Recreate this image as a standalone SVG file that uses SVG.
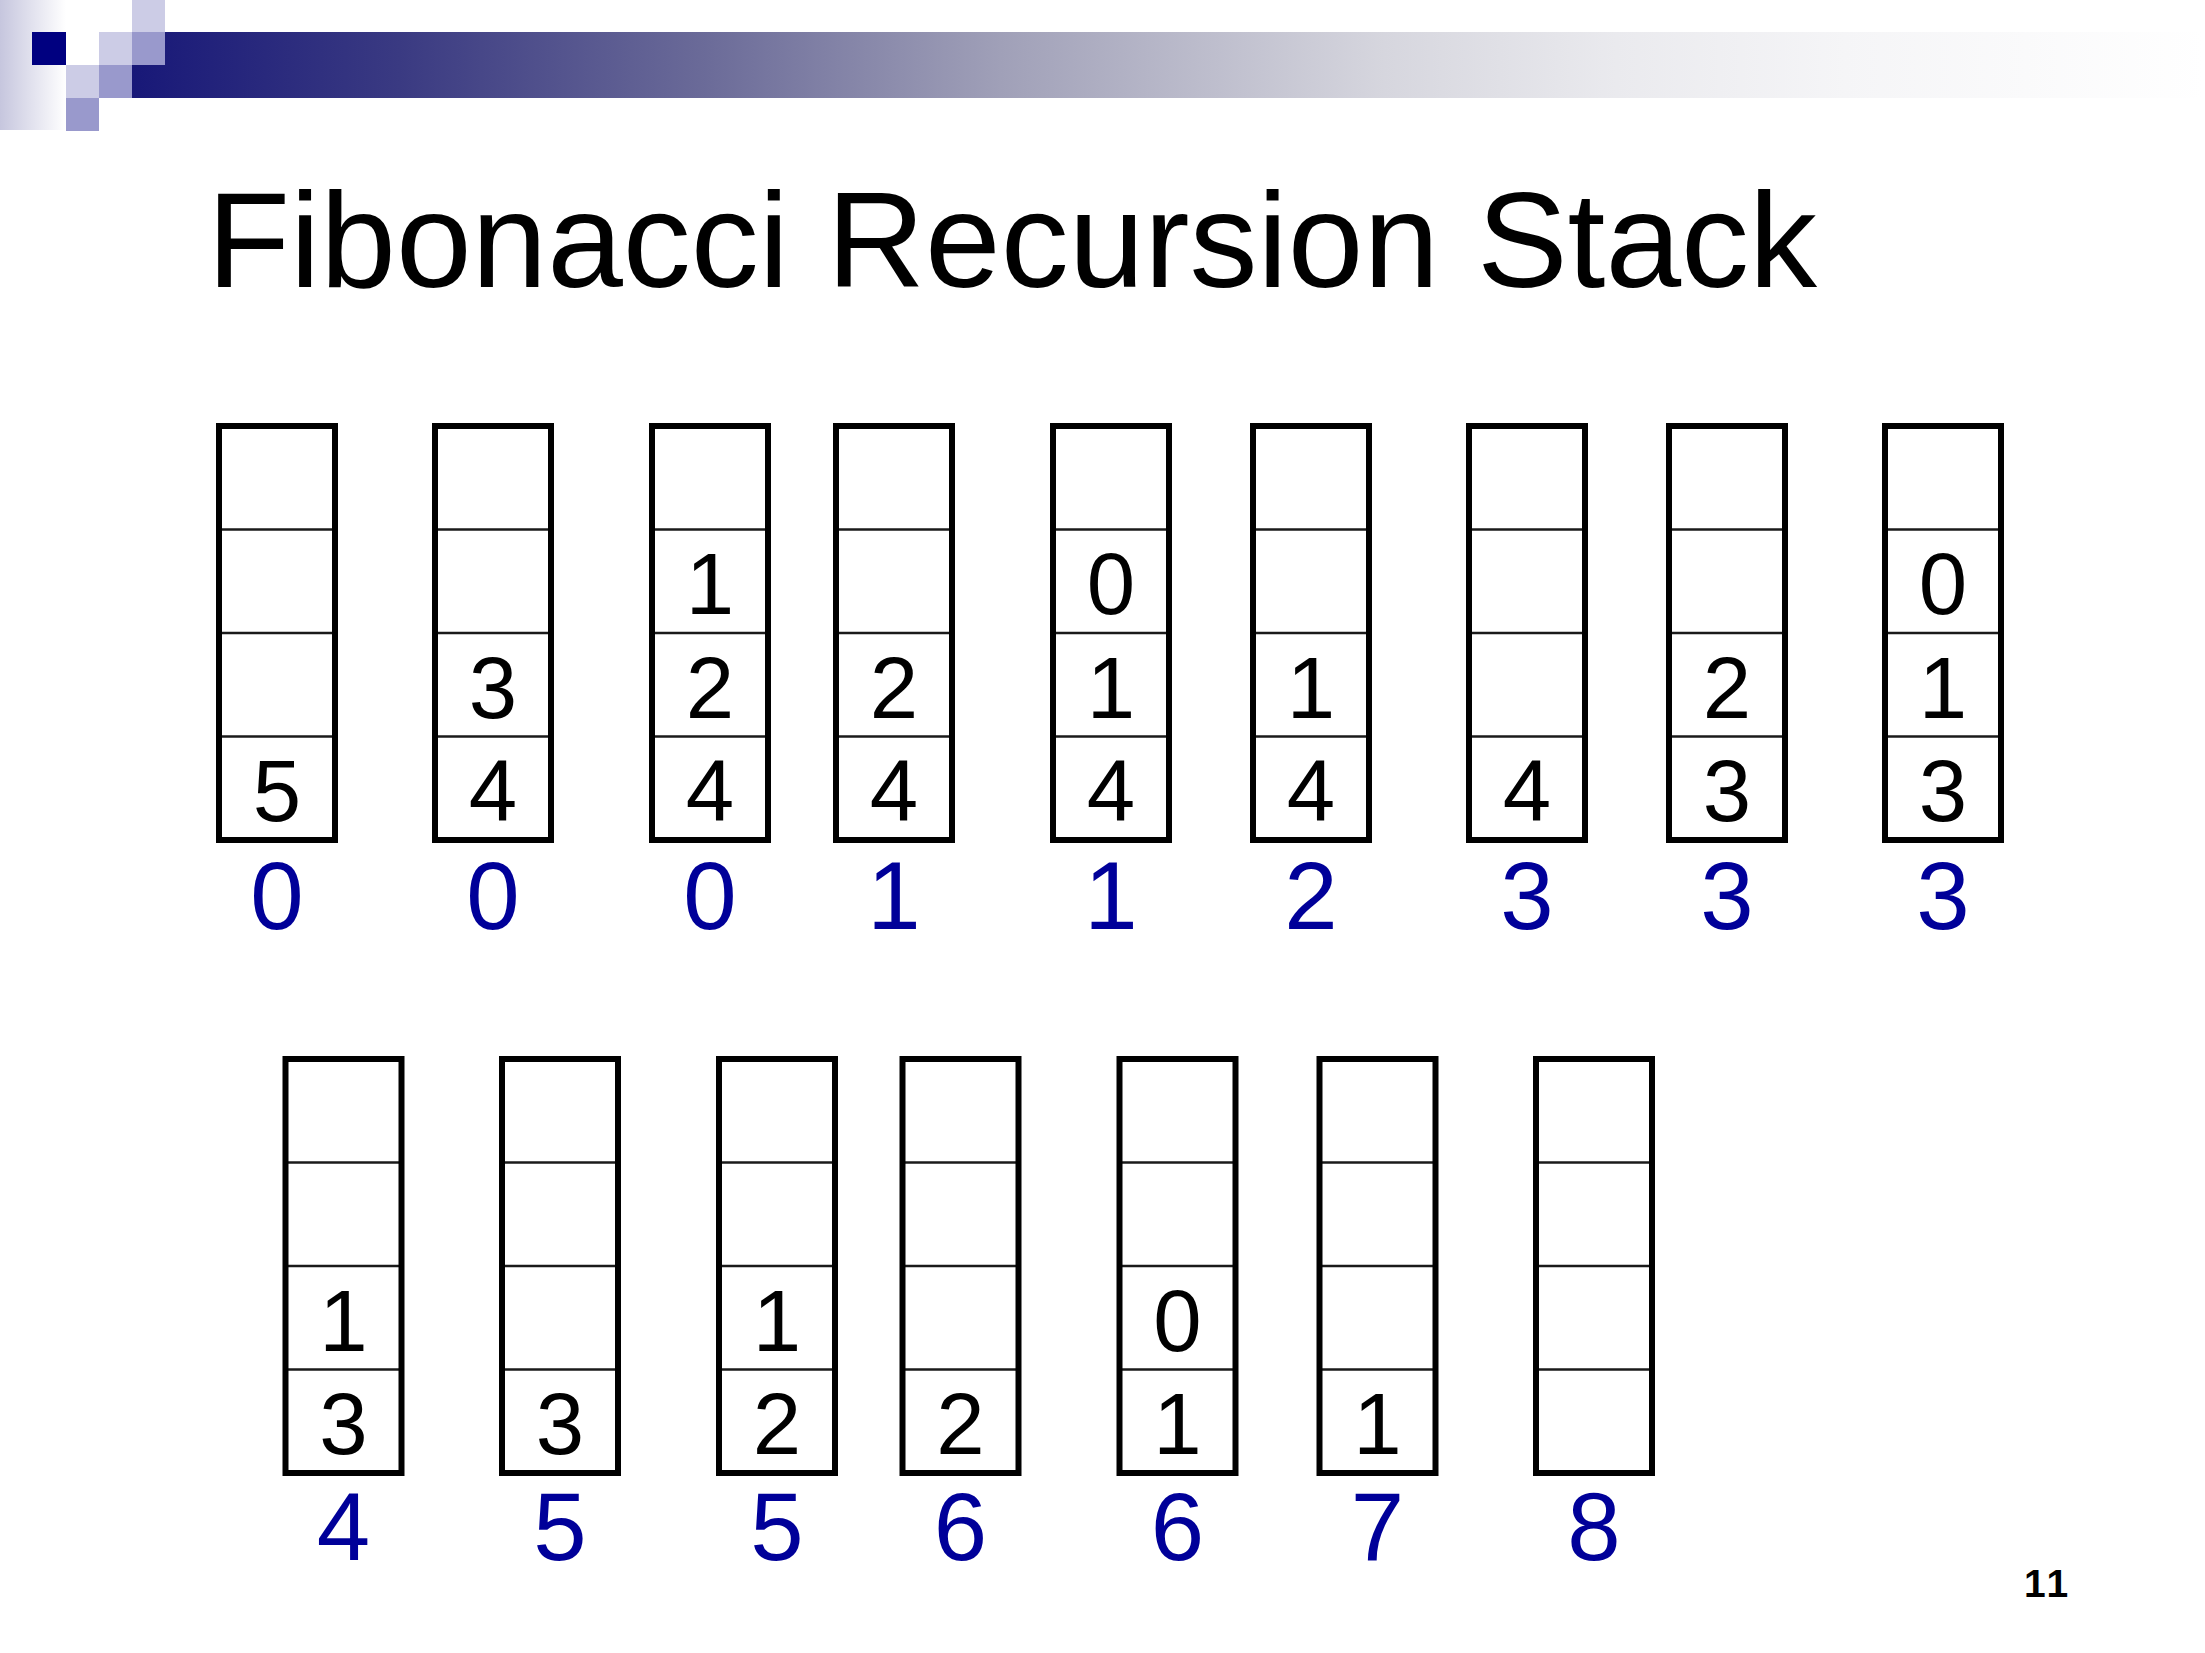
<svg xmlns="http://www.w3.org/2000/svg" width="2205" height="1653" viewBox="0 0 2205 1653">
<style>
.frame{fill:none;stroke:#000;stroke-width:6}
.div{stroke:#1a1a1a;stroke-width:2.5}
.val{font-family:"Liberation Sans",Arial,sans-serif;font-size:87px;fill:#000;text-anchor:middle}
.lbl{font-family:"Liberation Sans",Arial,sans-serif;font-size:96px;fill:#000099;text-anchor:middle}
.title{font-family:"Liberation Sans",Arial,sans-serif;font-size:136px;fill:#000}
.pg{font-family:"Liberation Sans",Arial,sans-serif;font-size:39px;font-weight:bold;fill:#000;letter-spacing:3px}
</style>
<defs>
<linearGradient id="bar" gradientUnits="userSpaceOnUse" x1="132" y1="0" x2="2205" y2="0">
<stop offset="0" stop-color="#181878"/>
<stop offset="0.129" stop-color="#3a3a82"/>
<stop offset="0.274" stop-color="#6a6a98"/>
<stop offset="0.419" stop-color="#a0a0b8"/>
<stop offset="0.604" stop-color="#d6d6de"/>
<stop offset="0.716" stop-color="#eaeaee"/>
<stop offset="0.826" stop-color="#f5f5f7"/>
<stop offset="1" stop-color="#ffffff"/>
</linearGradient>
<linearGradient id="side" x1="0" y1="0" x2="1" y2="0">
<stop offset="0" stop-color="#c6c6de"/>
<stop offset="1" stop-color="#ffffff"/>
</linearGradient>
<g id="cellsR1">
<line class="div" x1="0" y1="103.5" x2="116" y2="103.5"/>
<line class="div" x1="0" y1="207" x2="116" y2="207"/>
<line class="div" x1="0" y1="310.5" x2="116" y2="310.5"/>
<rect class="frame" x="0" y="0" width="116" height="414"/>
</g>
</defs>
<rect width="2205" height="1653" fill="#fff"/>
<g id="header">
<rect x="0" y="0" width="66" height="130" fill="url(#side)"/>
<rect x="132" y="32" width="2073" height="66" fill="url(#bar)"/>
<rect x="32" y="32" width="34" height="33" fill="#000080"/>
<rect x="99" y="32" width="33" height="33" fill="#ccccE6"/>
<rect x="132" y="0" width="33" height="32" fill="#ccccE6"/>
<rect x="132" y="32" width="33" height="33" fill="#9999cc"/>
<rect x="66" y="65" width="33" height="33" fill="#ccccE6"/>
<rect x="99" y="65" width="33" height="33" fill="#9999cc"/>
<rect x="66" y="98" width="33" height="33" fill="#9999cc"/>
</g>
<text class="title" x="207" y="287">Fibonacci Recursion Stack</text>

<g id="stack-r1-1" transform="translate(219,426)"><use href="#cellsR1"/><text class="val" x="58" y="395">5</text><text class="lbl" x="58" y="503">0</text></g>
<g id="stack-r1-2" transform="translate(435,426)"><use href="#cellsR1"/><text class="val" x="58" y="291.5">3</text><text class="val" x="58" y="395">4</text><text class="lbl" x="58" y="503">0</text></g>
<g id="stack-r1-3" transform="translate(652,426)"><use href="#cellsR1"/><text class="val" x="58" y="188">1</text><text class="val" x="58" y="291.5">2</text><text class="val" x="58" y="395">4</text><text class="lbl" x="58" y="503">0</text></g>
<g id="stack-r1-4" transform="translate(836,426)"><use href="#cellsR1"/><text class="val" x="58" y="291.5">2</text><text class="val" x="58" y="395">4</text><text class="lbl" x="58" y="503">1</text></g>
<g id="stack-r1-5" transform="translate(1053,426)"><use href="#cellsR1"/><text class="val" x="58" y="188">0</text><text class="val" x="58" y="291.5">1</text><text class="val" x="58" y="395">4</text><text class="lbl" x="58" y="503">1</text></g>
<g id="stack-r1-6" transform="translate(1253,426)"><use href="#cellsR1"/><text class="val" x="58" y="291.5">1</text><text class="val" x="58" y="395">4</text><text class="lbl" x="58" y="503">2</text></g>
<g id="stack-r1-7" transform="translate(1469,426)"><use href="#cellsR1"/><text class="val" x="58" y="395">4</text><text class="lbl" x="58" y="503">3</text></g>
<g id="stack-r1-8" transform="translate(1669,426)"><use href="#cellsR1"/><text class="val" x="58" y="291.5">2</text><text class="val" x="58" y="395">3</text><text class="lbl" x="58" y="503">3</text></g>
<g id="stack-r1-9" transform="translate(1885,426)"><use href="#cellsR1"/><text class="val" x="58" y="188">0</text><text class="val" x="58" y="291.5">1</text><text class="val" x="58" y="395">3</text><text class="lbl" x="58" y="503">3</text></g>

<g id="stack-r2-1" transform="translate(285.5,1059)"><use href="#cellsR1"/><text class="val" x="58" y="291.5">1</text><text class="val" x="58" y="395">3</text><text class="lbl" x="58" y="501">4</text></g>
<g id="stack-r2-2" transform="translate(502,1059)"><use href="#cellsR1"/><text class="val" x="58" y="395">3</text><text class="lbl" x="58" y="501">5</text></g>
<g id="stack-r2-3" transform="translate(719,1059)"><use href="#cellsR1"/><text class="val" x="58" y="291.5">1</text><text class="val" x="58" y="395">2</text><text class="lbl" x="58" y="501">5</text></g>
<g id="stack-r2-4" transform="translate(902.5,1059)"><use href="#cellsR1"/><text class="val" x="58" y="395">2</text><text class="lbl" x="58" y="501">6</text></g>
<g id="stack-r2-5" transform="translate(1119.5,1059)"><use href="#cellsR1"/><text class="val" x="58" y="291.5">0</text><text class="val" x="58" y="395">1</text><text class="lbl" x="58" y="501">6</text></g>
<g id="stack-r2-6" transform="translate(1319.5,1059)"><use href="#cellsR1"/><text class="val" x="58" y="395">1</text><text class="lbl" x="58" y="501">7</text></g>
<g id="stack-r2-7" transform="translate(1536,1059)"><use href="#cellsR1"/><text class="lbl" x="58" y="501">8</text></g>

<text class="pg" x="2024" y="1597">11</text>
</svg>
